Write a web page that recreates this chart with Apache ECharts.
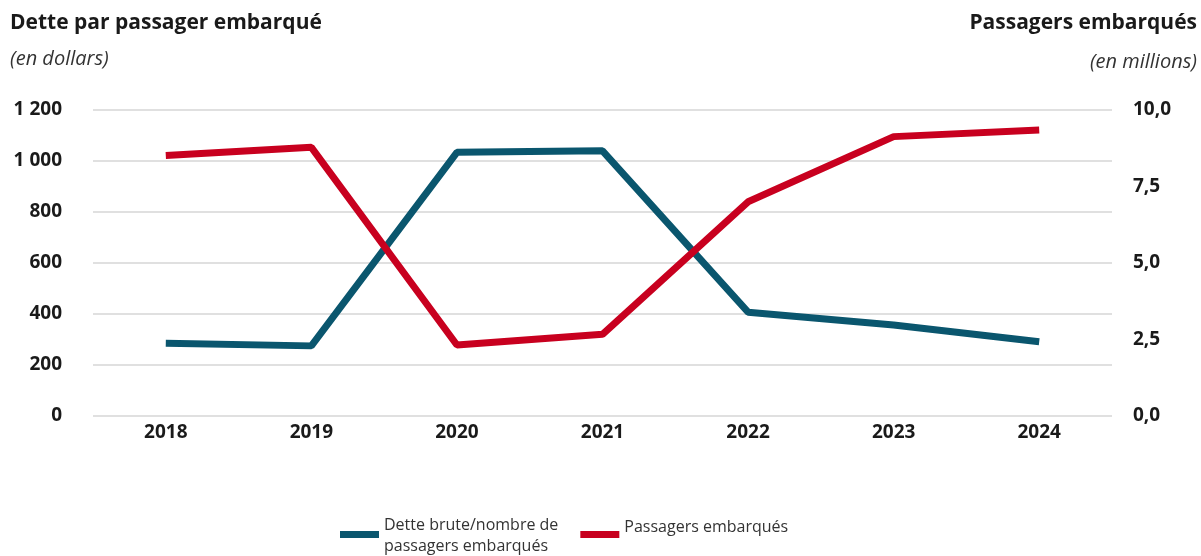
<!DOCTYPE html>
<html>
<head>
<meta charset="utf-8">
<script src="https://cdn.jsdelivr.net/npm/echarts@6/dist/echarts.min.js"></script>
<style>
  html, body { margin: 0; padding: 0; background: #fff; }
  #chart { width: 1201px; height: 556px; }
</style>
</head>
<body>
<div id="chart"></div>
<script>
const years = ['2018', '2019', '2020', '2021', '2022', '2023', '2024']
// dette brute / passagers embarqués (dollars)
const detteParPassager = [285, 275, 1034, 1040, 407, 357, 291]
// passagers embarqués (millions)
const passagers = [8.51, 8.78, 2.32, 2.67, 7.0, 9.13, 9.35]

const nomDette = 'Dette brute/nombre de\npassagers embarqués'
const nomPassagers = 'Passagers embarqués'

const font = 'Open Sans'
const textColor = '#1a1a1a'
const legendText = { fontSize: 16, color: '#333', fontFamily: font, lineHeight: 23 }

let myChart = echarts.init(document.getElementById('chart'))
myChart.setOption({
  animation: false,
  textStyle: { fontFamily: font },
  title: [
    {
      text: 'Dette par passager embarqué',
      left: 10, top: 13, padding: 0,
      textStyle: { fontSize: 21, fontWeight: 'bold', color: textColor, fontFamily: font }
    },
    {
      text: '(en dollars)',
      left: 10, top: 49, padding: 0,
      textStyle: { fontSize: 20, fontStyle: 'italic', fontWeight: 'normal', color: '#333', fontFamily: font }
    },
    {
      text: 'Passagers embarqués',
      right: 4, top: 13, padding: 0,
      textStyle: { fontSize: 21, fontWeight: 'bold', color: textColor, fontFamily: font }
    },
    {
      text: '(en millions)',
      right: 4, top: 52, padding: 0,
      textStyle: { fontSize: 20, fontStyle: 'italic', fontWeight: 'normal', color: '#333', fontFamily: font }
    }
  ],
  legend: {
    left: 335, top: 503,
    itemWidth: 39, itemHeight: 7, itemGap: 22,
    icon: 'rect',
    textStyle: Object.assign({}, legendText, {
      rich: {
        first: Object.assign({}, legendText, { padding: [9, 0, 0, 0] }),
        line: Object.assign({}, legendText, { lineHeight: 28 }),
        single: Object.assign({}, legendText, { padding: [0, 0, 14, 0] })
      }
    }),
    formatter: name => {
      const lines = name.split('\n')
      if (lines.length === 1) return '{single|' + name + '}'
      return lines.map((l, i) => (i === 0 ? '{first|' : '{line|') + l + '}').join('\n')
    },
    data: [nomDette, nomPassagers]
  },
  grid: { left: 93, right: 89, top: 110, bottom: 140, containLabel: false },
  xAxis: {
    type: 'category',
    data: years,
    boundaryGap: true,
    axisLine: { show: false },
    axisTick: { show: false },
    axisLabel: { fontSize: 19, fontWeight: 'bold', color: textColor, margin: 7 }
  },
  yAxis: [
    {
      type: 'value',
      min: 0, max: 1200, interval: 200,
      axisLine: { show: false },
      axisTick: { show: false },
      splitLine: { lineStyle: { color: '#e0e0e0', width: 2 } },
      axisLabel: {
        fontSize: 19, fontWeight: 'bold', color: textColor, margin: 31,
        formatter: v => String(v).replace(/\B(?=(\d{3})+(?!\d))/g, ' ')
      }
    },
    {
      type: 'value',
      min: 0, max: 10, interval: 2.5,
      position: 'right',
      axisLine: { show: false },
      axisTick: { show: false },
      splitLine: { show: false },
      axisLabel: {
        fontSize: 19, fontWeight: 'bold', color: textColor, margin: 21,
        padding: [6, 0, 0, 0],
        formatter: v => v.toFixed(1).replace('.', ',')
      }
    }
  ],
  series: [
    {
      name: nomDette,
      type: 'line',
      yAxisIndex: 0,
      data: detteParPassager,
      symbol: 'none',
      lineStyle: { width: 7, color: '#0a566e' },
      itemStyle: { color: '#0a566e' }
    },
    {
      name: nomPassagers,
      type: 'line',
      yAxisIndex: 1,
      data: passagers,
      symbol: 'none',
      lineStyle: { width: 7, color: '#c8001f' },
      itemStyle: { color: '#c8001f' }
    }
  ]
})
</script>
</body>
</html>
